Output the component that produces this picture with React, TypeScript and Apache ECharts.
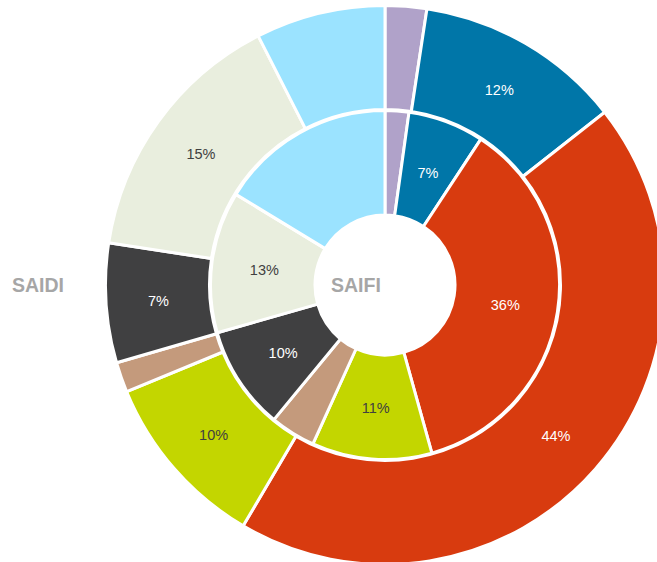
import React, { useEffect, useRef } from "react";
import * as echarts from "echarts";

const categories = ["Cat A", "Cat B", "Cat C", "Cat D", "Cat E", "Cat F", "Cat G", "Cat H"];
const saifiValues = [2.2, 7.05, 36.4, 11.1, 4.2, 9.6, 13.1, 16.3];
const saidiValues = [2.4, 12.0, 44.1, 10.3, 1.75, 6.9, 15.1, 7.5];
const showLabels = [false, true, true, true, false, true, true, false];
const colors = ["#B0A2C9", "#0076A8", "#D83B0F", "#C3D600", "#C49A7C", "#404041", "#E9EEDE", "#9BE3FF"];
const labelColors = ["#404040", "#FFFFFF", "#FFFFFF", "#404040", "#404040", "#FFFFFF", "#404040", "#404040"];
const ringTitles = ["SAIDI", "SAIFI"];

function buildData(values: number[]) {
  const total = values.reduce((a, b) => a + b, 0);
  let acc = 0;
  return values.map((v, i) => {
    const mid = ((acc + v / 2) / total) * Math.PI * 2;
    acc += v;
    const ux = Math.sin(mid);
    const uy = -Math.cos(mid);
    return {
      name: categories[i],
      value: v,
      itemStyle: { color: colors[i] },
      label: {
        show: showLabels[i],
        color: labelColors[i],
        offset: [-3.5 * ux, -3.5 * uy + 1.5],
      },
    };
  });
}

export default function App() {
  const ref = useRef<HTMLDivElement>(null);
  useEffect(() => {
    if (!ref.current) return;
    const chart = echarts.init(ref.current, null, { renderer: "svg" });
    const labelCommon = {
      position: "inside" as const,
      fontFamily: "Liberation Sans, Arial, sans-serif",
      fontSize: 14.5,
      formatter: (p: any) => Math.round(p.percent) + "%",
    };
    const titleFont = "bold 19.5px Liberation Sans, Arial, sans-serif";
    chart.setOption({
      animation: false,
      backgroundColor: "#FFFFFF",
      graphic: [
        {
          type: "text",
          x: 12,
          y: 285,
          style: { text: ringTitles[0], fill: "#A6A6A6", font: titleFont, verticalAlign: "middle", align: "left" },
        },
        {
          type: "text",
          x: 331,
          y: 285,
          style: { text: ringTitles[1], fill: "#A6A6A6", font: titleFont, verticalAlign: "middle", align: "left" },
        },
      ],
      series: [
        {
          type: "pie",
          name: "SAIFI",
          center: [385, 285],
          radius: [70, 174.5],
          startAngle: 90,
          clockwise: true,
          avoidLabelOverlap: false,
          itemStyle: { borderColor: "#FFFFFF", borderWidth: 3 },
          label: labelCommon,
          labelLine: { show: false },
          emphasis: { disabled: true },
          data: buildData(saifiValues),
        },
        {
          type: "pie",
          name: "SAIDI",
          center: [385, 285],
          radius: [175.5, 279.5],
          startAngle: 90,
          clockwise: true,
          avoidLabelOverlap: false,
          itemStyle: { borderColor: "#FFFFFF", borderWidth: 3 },
          label: labelCommon,
          labelLine: { show: false },
          emphasis: { disabled: true },
          data: buildData(saidiValues),
        },
      ],
    });
    return () => chart.dispose();
  }, []);
  return (
    <div
      ref={ref}
      style={{ position: "fixed", left: 0, top: 0, width: 657, height: 562 }}
    />
  );
}
